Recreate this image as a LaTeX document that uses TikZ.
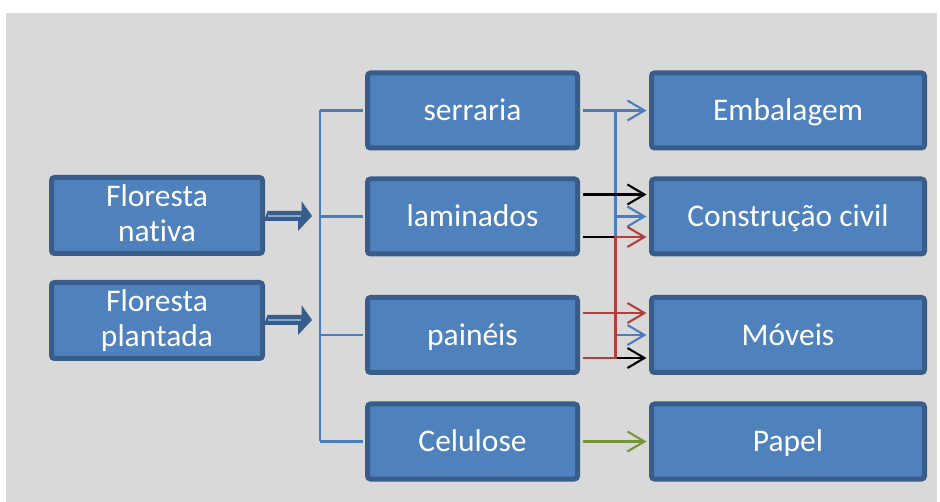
\documentclass[tikz,border=0pt]{standalone}
\usepackage{fontspec}
\setmainfont{Carlito}[Ligatures=NoCommon]
\usetikzlibrary{arrows.meta}
\definecolor{bg}{HTML}{D9D9D9}
\definecolor{boxfill}{HTML}{4F81BD}
\definecolor{boxline}{HTML}{385D8A}
\definecolor{lnblue}{HTML}{4A7EBB}
\definecolor{lnred}{HTML}{B0403D}
\definecolor{lngreen}{HTML}{77933C}
\tikzset{
  box/.style={draw=boxline, line width=5pt, fill=boxfill, rounded corners=3pt,
    text=white, inner sep=0pt, align=center,
    font=\fontsize{31.5}{34.5}\selectfont},
  onel/.style={text height=27pt, text depth=6pt},
  lbox/.style={box, minimum width=211pt, minimum height=76pt},
  mbox/.style={box, onel, minimum width=210pt, minimum height=75pt},
  rbox/.style={box, onel, minimum width=273pt, minimum height=75pt},
  conn/.style={line width=2.1pt},
  arr/.style={conn, -{Straight Barb[length=17pt,width=20pt,line width=2.1pt]}},
  fatbody/.style={fill=boxline},
}
\begin{document}
\begin{tikzpicture}[x=1pt,y=-1pt]
\useasboundingbox (0,0) rectangle (940,502);
\fill[bg] (6,13) rectangle (937,502);

\node[lbox] (fn) at (157,215.5) {Floresta\\nativa\vphantom{p}};
\node[lbox] (fp) at (157,320.5) {Floresta\\plantada};

\node[mbox] (se) at (472.5,110.5) {serraria};
\node[mbox] (la) at (472.5,216.5) {laminados};
\node[mbox] (pa) at (472.5,335) {painéis};
\node[mbox] (ce) at (472.5,441.5) {Celulose};

\node[rbox] (em) at (788,110.5) {Embalagem};
\node[rbox] (cc) at (788,216.5) {Construção civil};
\node[rbox] (mo) at (788,335) {Móveis};
\node[rbox] (pp) at (788,441.5) {Papel};

% junction coordinates
\coordinate (jx) at (320,0);
\coordinate (kx) at (615.5,0);
\coordinate (fnt) at (312,216);
\coordinate (fpt) at (312,320);

% thick arrows from the forests
\foreach \s/\t in {fn/fnt, fp/fpt}{
  \path (\s.east) ++(2.5pt,0) coordinate (st);
  \fill[fatbody] (st |- \t) ++(0,-5) -- ++(34,0) -- ++(0,-10) -- (\t) -- ++(-14,15) -- ++(0,-10) -- ++(-34,0) -- cycle;
  \draw[boxfill!70!white, line width=1.2pt] (st |- \t) -- ++(33,0);
}

% left distribution bus
\draw[lnblue, conn] (jx |- se.west) -- (jx |- ce.west);
\foreach \n in {se, la, pa, ce}{
  \draw[lnblue, conn] (jx |- \n.west) -- ([xshift=-2.5pt]\n.west);
}

% end points
\coordinate (s1) at ([xshift=2.5pt]se.east);
\coordinate (la1) at ([xshift=2.5pt,yshift=22pt]la.east);
\coordinate (la2) at ([xshift=2.5pt,yshift=-20.5pt]la.east);
\coordinate (pa1) at ([xshift=2.5pt,yshift=22pt]pa.east);
\coordinate (pa2) at ([xshift=2.5pt,yshift=-23pt]pa.east);
\coordinate (cc1) at ([xshift=-2.5pt,yshift=22pt]cc.west);
\coordinate (cc2) at ([xshift=-2.5pt,yshift=-20.5pt]cc.west);
\coordinate (mo1) at ([xshift=-2.5pt,yshift=22pt]mo.west);
\coordinate (mo2) at ([xshift=-2.5pt,yshift=-23pt]mo.west);

% blue from serraria
\draw[lnblue, arr] (s1) -- ([xshift=-2.5pt]em.west);
\draw[lnblue, conn] (kx |- s1) -- (kx |- mo.west);
\draw[lnblue, arr] (kx |- cc.west) -- ([xshift=-2.5pt]cc.west);
\draw[lnblue, arr] (kx |- mo.west) -- ([xshift=-2.5pt]mo.west);

% black from laminados
\draw[black, arr] (la1) -- (cc1);
\draw[black, arr] (la2) -- (kx |- la2) -- (kx |- mo2) -- (mo2);

% red from painéis
\draw[lnred, arr] (pa1) -- (mo1);
\draw[lnred, arr] (pa2) -- (kx |- pa2) -- (kx |- cc2) -- (cc2);

% green from celulose
\draw[lngreen, arr] ([xshift=2.5pt]ce.east) -- ([xshift=-2.5pt]pp.west);
\end{tikzpicture}
\end{document}
